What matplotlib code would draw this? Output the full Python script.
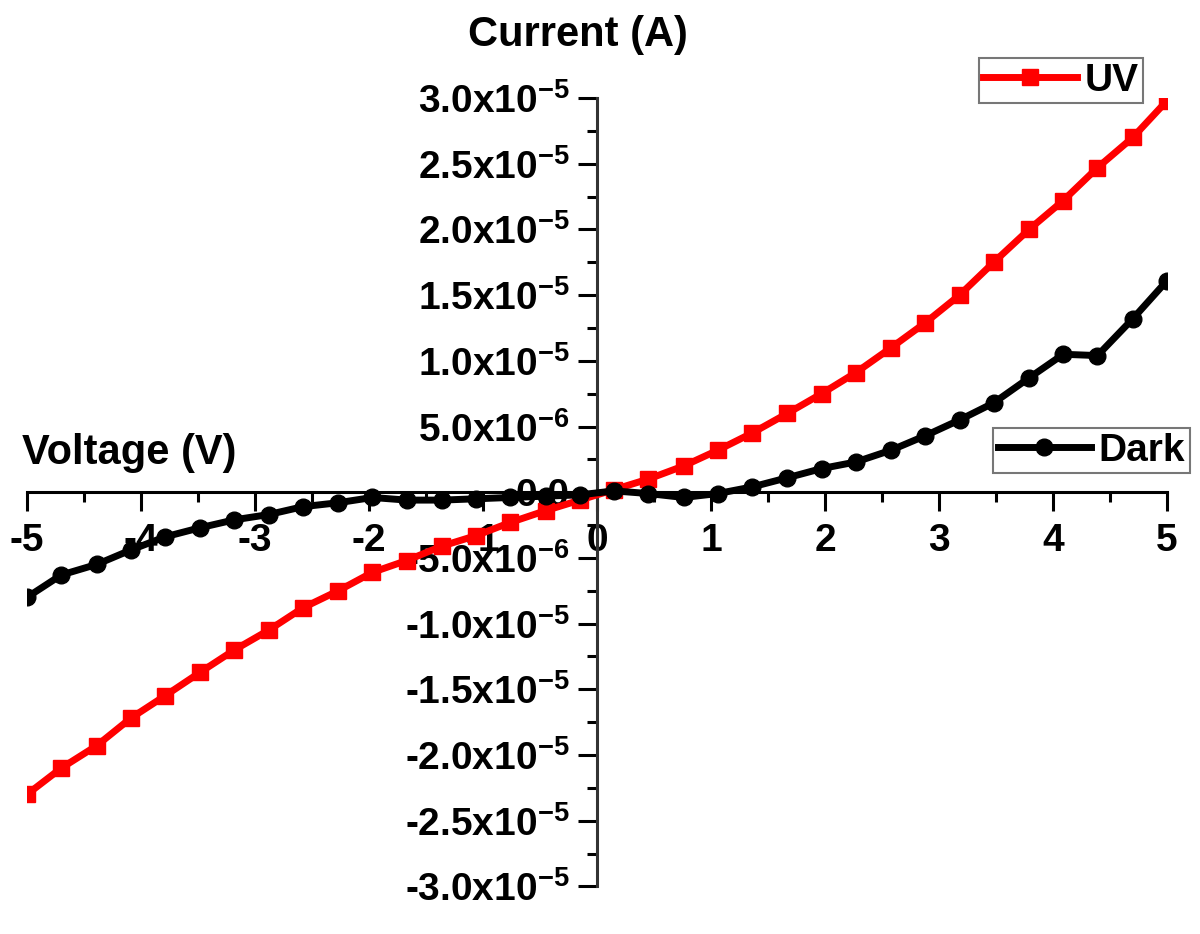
import numpy as np
import matplotlib.pyplot as plt
from matplotlib.ticker import FixedLocator, FixedFormatter, MultipleLocator

plt.rcParams['font.family'] = 'Liberation Sans'
plt.rcParams['font.weight'] = 'bold'
plt.rcParams['axes.unicode_minus'] = False
plt.rcParams['mathtext.fontset'] = 'custom'
plt.rcParams['mathtext.rm'] = 'Liberation Sans:bold'
plt.rcParams['mathtext.it'] = 'Liberation Sans:bold'
plt.rcParams['mathtext.bf'] = 'Liberation Sans:bold'
plt.rcParams['mathtext.default'] = 'bf'

# bias voltage (V)
voltage = [-5.00, -4.70, -4.39, -4.09, -3.79, -3.48, -3.18, -2.88, -2.58, -2.27,
           -1.97, -1.67, -1.36, -1.06, -0.76, -0.45, -0.15, 0.15, 0.45, 0.76,
           1.06, 1.36, 1.67, 1.97, 2.27, 2.58, 2.88, 3.18, 3.48, 3.79,
           4.09, 4.39, 4.70, 5.00]

# current in units of 1e-5 A
uv_current = [-2.30, -2.10, -1.93, -1.72, -1.55, -1.37, -1.20, -1.05, -0.88, -0.75,
              -0.61, -0.52, -0.41, -0.33, -0.23, -0.14, -0.06, 0.02, 0.10, 0.20,
              0.32, 0.45, 0.60, 0.75, 0.91, 1.10, 1.29, 1.50, 1.75, 2.00,
              2.22, 2.47, 2.70, 2.98]
dark_current = [-0.80, -0.63, -0.55, -0.44, -0.34, -0.27, -0.21, -0.17, -0.11, -0.08,
                -0.04, -0.06, -0.06, -0.05, -0.04, -0.03, -0.02, 0.01, -0.01, -0.04,
                -0.01, 0.04, 0.11, 0.18, 0.23, 0.32, 0.43, 0.55, 0.68, 0.87,
                1.05, 1.04, 1.32, 1.61]

ytick_vals = [-3.0, -2.5, -2.0, -1.5, -1.0, -0.5, 0.0, 0.5, 1.0, 1.5, 2.0, 2.5, 3.0]
ytick_labels = ['-3.0x10$^{-5}$', '-2.5x10$^{-5}$', '-2.0x10$^{-5}$', '-1.5x10$^{-5}$',
                '-1.0x10$^{-5}$', '-5.0x10$^{-6}$', '0.0', '5.0x10$^{-6}$',
                '1.0x10$^{-5}$', '1.5x10$^{-5}$', '2.0x10$^{-5}$', '2.5x10$^{-5}$',
                '3.0x10$^{-5}$']
xtick_vals = [-5, -4, -3, -2, -1, 0, 1, 2, 3, 4, 5]

fig = plt.figure(figsize=(12, 9.34), dpi=100)
ax = fig.add_axes([0.0225, 0.051, 0.95, 0.844])

v = np.array(voltage)
line_uv, = ax.plot(v, np.array(uv_current) * 1e-5, color='#ff0000', lw=5,
                   marker='s', ms=12, label='UV', zorder=3)
line_dark, = ax.plot(v, np.array(dark_current) * 1e-5, color='black', lw=5,
                     marker='o', ms=12, label='Dark', zorder=4)

ax.set_xlim(-5, 5)
ax.set_ylim(-3e-5, 3e-5)

for s in ['top', 'right']:
    ax.spines[s].set_visible(False)
ax.spines['left'].set_position(('data', 0))
ax.spines['bottom'].set_position(('data', 0))
ax.spines['left'].set_linewidth(2.2)
ax.spines['bottom'].set_linewidth(2.2)
ax.spines['left'].set_color('#333333')

ax.yaxis.set_major_locator(FixedLocator([t * 1e-5 for t in ytick_vals]))
ax.yaxis.set_major_formatter(FixedFormatter(ytick_labels))
ax.yaxis.set_minor_locator(MultipleLocator(0.25e-5))
ax.xaxis.set_major_locator(FixedLocator(xtick_vals))
ax.xaxis.set_minor_locator(MultipleLocator(0.5))

ax.tick_params(axis='both', which='major', direction='out', length=14, width=2.2,
               labelsize=28)
ax.tick_params(axis='both', which='minor', direction='out', length=7, width=2.2)
ax.tick_params(axis='y', pad=6)
ax.tick_params(axis='x', pad=8)

fig.text(22 / 1200, 1 - 453 / 934, 'Voltage (V)', fontsize=30, fontweight='bold',
         ha='left', va='center')
fig.text(578 / 1200, 1 - 35 / 934, 'Current (A)', fontsize=30, fontweight='bold',
         ha='center', va='center')

leg_kw = dict(fontsize=28, fancybox=False, edgecolor='#777777', framealpha=1,
              borderpad=0.12, handlelength=2.4, handletextpad=0.2, borderaxespad=0,
              bbox_transform=fig.transFigure)
leg1 = ax.legend(handles=[line_uv], loc='upper right',
                 bbox_to_anchor=(1143 / 1200, 1 - 58 / 934), **leg_kw)
leg1.get_frame().set_linewidth(1.5)
ax.add_artist(leg1)
leg2 = ax.legend(handles=[line_dark], loc='upper right',
                 bbox_to_anchor=(1190 / 1200, 1 - 428 / 934), **leg_kw)
leg2.get_frame().set_linewidth(1.5)

fig.savefig('out.png', dpi=100)
